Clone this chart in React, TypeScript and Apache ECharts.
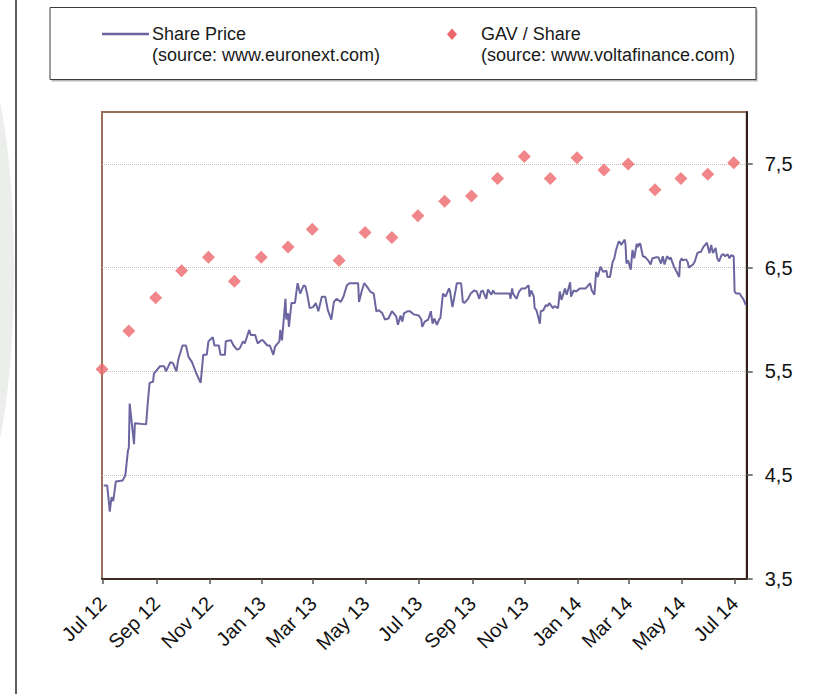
import React, { useEffect, useRef } from "react";
import * as echarts from "echarts";

// ---- Axis ticks ----
const xTickDates = [
  "2012-07-01", "2012-09-01", "2012-11-01", "2013-01-01", "2013-03-01", "2013-05-01",
  "2013-07-01", "2013-09-01", "2013-11-01", "2014-01-01", "2014-03-01", "2014-05-01", "2014-07-01",
];
const xTickLabels = [
  "Jul 12", "Sep 12", "Nov 12", "Jan 13", "Mar 13", "May 13",
  "Jul 13", "Sep 13", "Nov 13", "Jan 14", "Mar 14", "May 14", "Jul 14",
];
const yTickValues = [3.5, 4.5, 5.5, 6.5, 7.5];
const yTickLabels = ["3,5", "4,5", "5,5", "6,5", "7,5"];

// ---- GAV / Share (month ends) ----
const gavDates = [
  "2012-06-30", "2012-07-31", "2012-08-31", "2012-09-30", "2012-10-31", "2012-11-30",
  "2012-12-31", "2013-01-31", "2013-02-28", "2013-03-31", "2013-04-30", "2013-05-31",
  "2013-06-30", "2013-07-31", "2013-08-31", "2013-09-30", "2013-10-31", "2013-11-30",
  "2013-12-31", "2014-01-31", "2014-02-28", "2014-03-31", "2014-04-30", "2014-05-31", "2014-06-30",
];
const gavValues = [
  5.52, 5.89, 6.21, 6.47, 6.6, 6.37,
  6.6, 6.7, 6.87, 6.57, 6.84, 6.79,
  7.0, 7.14, 7.19, 7.36, 7.57, 7.36,
  7.56, 7.44, 7.5, 7.25, 7.36, 7.4, 7.51,
];

// ---- Share Price ----
const priceDates = [
  "2012-07-02", "2012-07-06", "2012-07-09", "2012-07-11", "2012-07-13", "2012-07-16", "2012-07-24", "2012-07-27",
  "2012-07-30", "2012-07-31", "2012-08-01", "2012-08-06", "2012-08-07", "2012-08-20", "2012-08-22", "2012-08-24",
  "2012-08-28", "2012-08-29", "2012-09-05", "2012-09-10", "2012-09-12", "2012-09-17", "2012-09-20", "2012-09-24",
  "2012-09-26", "2012-10-01", "2012-10-05", "2012-10-08", "2012-10-12", "2012-10-17", "2012-10-22", "2012-10-25",
  "2012-10-29", "2012-10-31", "2012-11-05", "2012-11-07", "2012-11-12", "2012-11-14", "2012-11-19", "2012-11-20",
  "2012-11-26", "2012-11-29", "2012-12-03", "2012-12-06", "2012-12-10", "2012-12-12", "2012-12-14", "2012-12-17",
  "2012-12-19", "2012-12-24", "2012-12-27", "2012-12-31",
  "2013-01-02", "2013-01-07", "2013-01-10", "2013-01-14", "2013-01-16", "2013-01-21", "2013-01-22", "2013-01-24",
  "2013-01-28", "2013-01-29", "2013-01-31", "2013-02-01", "2013-02-04", "2013-02-08", "2013-02-11", "2013-02-14",
  "2013-02-18", "2013-02-20", "2013-02-22", "2013-02-25", "2013-03-01", "2013-03-04", "2013-03-07", "2013-03-11",
  "2013-03-15", "2013-03-18", "2013-03-22", "2013-03-25", "2013-03-28", "2013-04-02", "2013-04-05", "2013-04-09",
  "2013-04-12", "2013-04-17", "2013-04-22", "2013-04-23", "2013-04-26", "2013-04-29", "2013-05-02", "2013-05-06",
  "2013-05-10", "2013-05-13", "2013-05-16", "2013-05-20", "2013-05-23", "2013-05-27", "2013-05-31", "2013-06-05",
  "2013-06-07", "2013-06-10", "2013-06-12", "2013-06-14", "2013-06-18", "2013-06-21", "2013-06-25", "2013-07-01",
  "2013-07-04", "2013-07-05", "2013-07-08", "2013-07-12", "2013-07-15", "2013-07-17", "2013-07-19", "2013-07-22",
  "2013-07-25", "2013-07-26", "2013-07-29", "2013-08-01", "2013-08-05", "2013-08-06", "2013-08-09", "2013-08-13",
  "2013-08-14", "2013-08-19", "2013-08-21", "2013-08-23", "2013-08-27", "2013-08-30", "2013-09-03", "2013-09-06",
  "2013-09-09", "2013-09-11", "2013-09-13", "2013-09-17", "2013-09-19", "2013-09-23", "2013-09-25", "2013-09-27",
  "2013-10-07", "2013-10-14", "2013-10-15", "2013-10-17", "2013-10-18", "2013-10-22", "2013-10-25", "2013-10-28",
  "2013-11-01", "2013-11-05", "2013-11-06", "2013-11-08", "2013-11-11", "2013-11-12", "2013-11-14", "2013-11-15",
  "2013-11-18", "2013-11-19", "2013-11-22", "2013-11-25", "2013-11-27", "2013-11-29", "2013-12-03", "2013-12-05",
  "2013-12-09", "2013-12-11", "2013-12-13", "2013-12-17", "2013-12-19", "2013-12-23", "2013-12-24", "2013-12-27",
  "2013-12-30",
  "2014-01-03", "2014-01-07", "2014-01-10", "2014-01-15", "2014-01-17", "2014-01-20", "2014-01-22", "2014-01-24",
  "2014-01-27", "2014-01-30", "2014-02-03", "2014-02-04", "2014-02-07", "2014-02-10", "2014-02-12", "2014-02-14",
  "2014-02-17", "2014-02-18", "2014-02-20", "2014-02-24", "2014-02-25", "2014-02-26", "2014-02-28", "2014-03-03",
  "2014-03-05", "2014-03-07", "2014-03-10", "2014-03-11", "2014-03-13", "2014-03-14", "2014-03-17", "2014-03-20",
  "2014-03-24", "2014-03-26", "2014-03-28", "2014-04-02", "2014-04-04", "2014-04-07", "2014-04-09", "2014-04-11",
  "2014-04-14", "2014-04-17", "2014-04-18", "2014-04-22", "2014-04-25", "2014-04-28", "2014-04-29", "2014-05-01",
  "2014-05-02", "2014-05-06", "2014-05-08", "2014-05-09", "2014-05-14", "2014-05-16", "2014-05-19", "2014-05-21",
  "2014-05-23", "2014-05-26", "2014-05-29", "2014-05-30", "2014-06-02", "2014-06-04", "2014-06-06", "2014-06-09",
  "2014-06-11", "2014-06-13", "2014-06-16", "2014-06-18", "2014-06-20", "2014-06-23", "2014-06-25", "2014-06-27",
  "2014-06-30", "2014-07-01", "2014-07-03", "2014-07-07", "2014-07-09", "2014-07-11", "2014-07-14",
];
const priceValues = [
  4.4, 4.4, 4.15, 4.29, 4.25, 4.44, 4.45, 4.5,
  4.74, 4.76, 5.19, 4.8, 5.0, 4.99, 5.21, 5.39,
  5.4, 5.48, 5.55, 5.55, 5.5, 5.59, 5.58, 5.5,
  5.61, 5.75, 5.75, 5.64, 5.59, 5.48, 5.39, 5.66,
  5.66, 5.79, 5.83, 5.75, 5.75, 5.66, 5.66, 5.79,
  5.8, 5.75, 5.71, 5.72, 5.79, 5.77, 5.82, 5.9,
  5.85, 5.85, 5.77, 5.8,
  5.8, 5.75, 5.75, 5.66, 5.74, 5.79, 5.9, 5.8,
  6.2, 6.0, 6.06, 5.93, 6.16, 6.16, 6.35, 6.25,
  6.33, 6.32, 6.25, 6.11, 6.12, 6.16, 6.08, 6.22,
  6.22, 6.09, 6.0, 6.17, 6.2, 6.17, 6.22, 6.33,
  6.35, 6.35, 6.35, 6.17, 6.27, 6.35, 6.32, 6.27,
  6.25, 6.08, 6.09, 6.06, 6.0, 6.01, 6.08, 6.03,
  5.95, 6.04, 5.98, 6.06, 6.08, 6.08, 6.05, 6.04,
  6.0, 5.93, 5.98, 6.0, 6.08, 5.96, 6.01, 5.95,
  6.01, 6.01, 6.25, 6.22, 6.3, 6.28, 6.12, 6.3,
  6.35, 6.35, 6.17, 6.16, 6.2, 6.25, 6.28, 6.27,
  6.2, 6.27, 6.28, 6.2, 6.29, 6.24, 6.28, 6.25,
  6.25, 6.25, 6.2, 6.3, 6.25, 6.2, 6.27, 6.3,
  6.3, 6.33, 6.22, 6.28, 6.22, 6.11, 6.09, 6.06,
  5.96, 6.08, 6.09, 6.14, 6.13, 6.16, 6.11, 6.13,
  6.11, 6.27, 6.19, 6.3, 6.24, 6.36, 6.22, 6.28,
  6.27,
  6.3, 6.3, 6.3, 6.35, 6.28, 6.24, 6.46, 6.41,
  6.51, 6.46, 6.47, 6.41, 6.41, 6.55, 6.59, 6.67,
  6.75, 6.75, 6.72, 6.77, 6.72, 6.54, 6.57, 6.48,
  6.67, 6.59, 6.73, 6.7, 6.73, 6.73, 6.61, 6.6,
  6.56, 6.53, 6.59, 6.6, 6.6, 6.54, 6.61, 6.53,
  6.61, 6.58, 6.6, 6.51, 6.46, 6.41, 6.56, 6.59,
  6.57, 6.58, 6.55, 6.5, 6.53, 6.56, 6.64, 6.65,
  6.65, 6.7, 6.73, 6.74, 6.64, 6.72, 6.64, 6.69,
  6.59, 6.56, 6.62, 6.63, 6.61, 6.63, 6.59, 6.62,
  6.61, 6.27, 6.25, 6.25, 6.22, 6.2, 6.14,
];

const X_MIN = "2012-06-30";
const X_MAX = "2014-07-15";

const ts = (s: string) => {
  const [y, m, d] = s.split("-").map(Number);
  return Date.UTC(y, m - 1, d);
};

const FONT = "'Liberation Sans', Arial, Helvetica, sans-serif";
const LINE_COLOR = "#6b669f";
const DIAMOND_COLOR = "#ec686c";

export default function App() {
  const ref = useRef<HTMLDivElement>(null);

  useEffect(() => {
    if (!ref.current) return;
    const chart = echarts.init(ref.current, undefined, { renderer: "svg" });
    const xTickTs = xTickDates.map(ts);

    const legendText = (text: string, x: number, y: number) => ({
      type: "text",
      x,
      y,
      style: {
        text,
        fill: "#1a1a1a",
        font: `18px ${FONT}`,
        verticalAlign: "middle",
        align: "left",
      },
      silent: true,
    });

    const option: any = {
      animation: false,
      backgroundColor: "#ffffff",
      grid: {
        left: 102,
        top: 112,
        width: 644.7,
        height: 467,
        show: true,
        borderColor: "#96705a",
        borderWidth: 2,
        backgroundColor: "transparent",
      },
      xAxis: {
        type: "value",
        min: ts(X_MIN),
        max: ts(X_MAX),
        axisLine: { show: true, onZero: false, lineStyle: { color: "#3a2a22", width: 2 } },
        axisTick: {
          show: true,
          customValues: xTickTs,
          length: 5,
          lineStyle: { color: "#555555", width: 1.5 },
        },
        axisLabel: {
          show: true,
          customValues: xTickTs,
          rotate: 45,
          margin: 21,
          fontSize: 20,
          fontFamily: FONT,
          color: "#111111",
          formatter: (v: number) => {
            let best = -1;
            let bd = Infinity;
            xTickTs.forEach((t, i) => {
              const d = Math.abs(t - v);
              if (d < bd) { bd = d; best = i; }
            });
            return best >= 0 && bd < 86400000 ? xTickLabels[best] : "";
          },
        },
        splitLine: { show: false },
      },
      yAxis: {
        type: "value",
        position: "right",
        min: 3.5,
        max: 8,
        axisLine: { show: true, lineStyle: { color: "#2e2019", width: 2 } },
        axisTick: {
          show: true,
          customValues: yTickValues,
          length: 6,
          lineStyle: { color: "#555555", width: 1.5 },
        },
        axisLabel: {
          show: true,
          customValues: yTickValues,
          margin: 18,
          fontSize: 20,
          fontFamily: FONT,
          color: "#111111",
          formatter: (v: number) => {
            const i = yTickValues.findIndex((t) => Math.abs(t - v) < 1e-6);
            return i >= 0 ? yTickLabels[i] : "";
          },
        },
        splitLine: {
          show: true,
          lineStyle: { color: "#c8bdb3", type: "dotted", width: 1 },
        },
      },
      series: [
        {
          name: "Share Price",
          type: "line",
          data: priceDates.map((d, i) => [ts(d), priceValues[i]]),
          symbol: "none",
          showSymbol: false,
          lineStyle: { color: LINE_COLOR, width: 2 },
          itemStyle: { color: LINE_COLOR },
          z: 3,
        },
        {
          name: "GAV / Share",
          type: "scatter",
          data: gavDates.map((d, i) => [ts(d), gavValues[i]]),
          symbol: "diamond",
          symbolSize: [13, 13],
          clip: false,
          itemStyle: { color: DIAMOND_COLOR },
          z: 4,
        },
      ],
      graphic: [
        {
          type: "ellipse",
          shape: { cx: -32, cy: 270, rx: 46, ry: 235 },
          style: { fill: "#eceeec" },
          silent: true,
          z: -10,
        },
        {
          type: "line",
          shape: { x1: 16, y1: 0, x2: 16, y2: 694 },
          style: { stroke: "#5e5e5e", lineWidth: 2 },
          silent: true,
        },
        {
          type: "rect",
          shape: { x: 51.5, y: 9.5, width: 706, height: 72 },
          style: { fill: "#b8b8b8" },
          silent: true,
        },
        {
          type: "rect",
          shape: { x: 50, y: 7.5, width: 706, height: 72 },
          style: { fill: "#ffffff", stroke: "#3a3a3a", lineWidth: 1 },
          silent: true,
        },
        {
          type: "line",
          shape: { x1: 102, y1: 34, x2: 149, y2: 34 },
          style: { stroke: LINE_COLOR, lineWidth: 2.5 },
          silent: true,
        },
        legendText("Share Price", 152, 34),
        legendText("(source: www.euronext.com)", 152, 55),
        {
          type: "polygon",
          shape: { points: [[452, 28.5], [457, 34.2], [452, 39.9], [447, 34.2]] },
          style: { fill: DIAMOND_COLOR },
          silent: true,
        },
        legendText("GAV / Share", 481, 34),
        legendText("(source: www.voltafinance.com)", 481, 55),
      ],
    };

    chart.setOption(option);
    return () => chart.dispose();
  }, []);

  return (
    <div
      ref={ref}
      style={{ position: "absolute", left: 0, top: 0, width: 815, height: 694 }}
    />
  );
}
